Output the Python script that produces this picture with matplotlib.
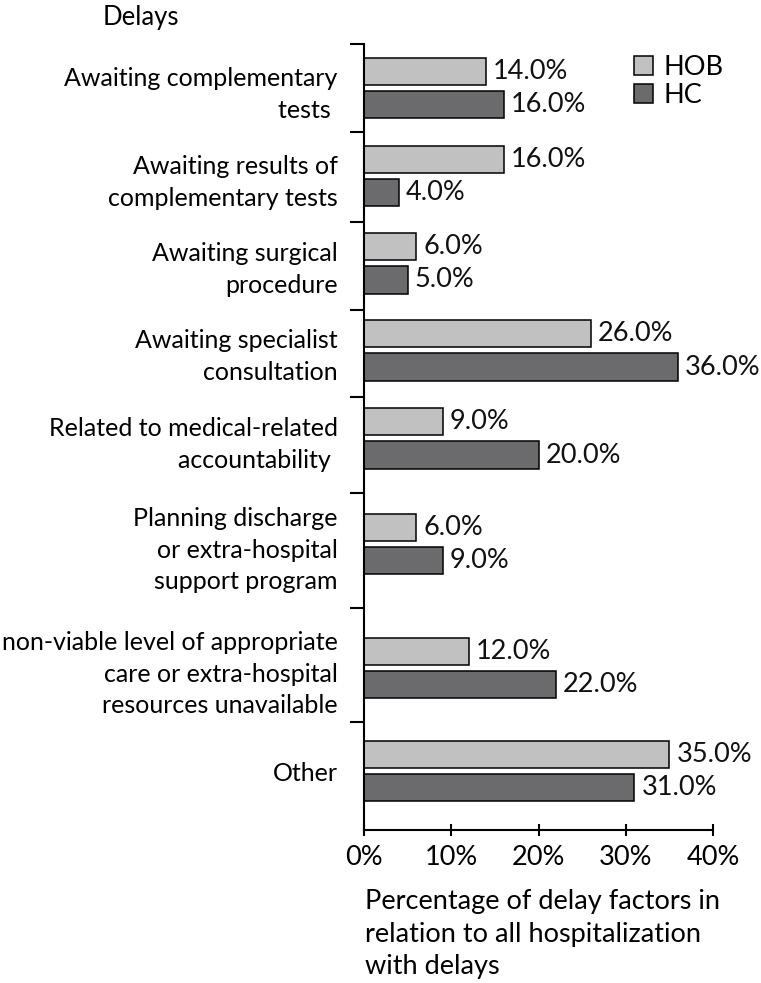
import matplotlib.pyplot as plt
import numpy as np

plt.rcParams['font.family'] = ['Lato', 'DejaVu Sans']

# data
categories = [
    'Awaiting complementary\ntests ',
    'Awaiting results of\ncomplementary tests',
    'Awaiting surgical\nprocedure',
    'Awaiting specialist\nconsultation',
    'Related to medical-related\naccountability ',
    'Planning discharge\nor extra-hospital\nsupport program',
    'non-viable level of appropriate\ncare or extra-hospital\nresources unavailable',
    'Other',
]
hob = [14.0, 16.0, 6.0, 26.0, 9.0, 6.0, 12.0, 35.0]
hc = [16.0, 4.0, 5.0, 36.0, 20.0, 9.0, 22.0, 31.0]
xticks = [0, 10, 20, 30, 40]

# layout: row centres and separator ticks (axis units, top = 0)
row_pos = [0.5, 1.5, 2.49, 3.48, 4.48, 5.68, 7.09, 8.26]
sep_pos = [0, 1.0, 2.02, 3.02, 4.01, 5.1, 6.41, 7.7]
y_end = 8.93
bar_h = 0.31
gap = 0.07

col_hob = '#c1c1c1'
col_hc = '#6b6b6e'
fs = 18

centers = np.array(row_pos)

fig = plt.figure(figsize=(7.61, 9.83), dpi=100)
ax = fig.add_axes([364 / 761, 1 - 830 / 983, (713 - 364) / 761, (830 - 44) / 983])

y_hob = centers - (bar_h + gap) / 2
y_hc = centers + (bar_h + gap) / 2
ax.barh(y_hob, hob, height=bar_h, color=col_hob, edgecolor='black', linewidth=1.1, label='HOB')
ax.barh(y_hc, hc, height=bar_h, color=col_hc, edgecolor='black', linewidth=1.1, label='HC')

for y, v in zip(y_hob, hob):
    ax.text(v + 0.8, y, f'{v:.1f}%', va='center', ha='left', fontsize=19.5, color='#111111')
for y, v in zip(y_hc, hc):
    ax.text(v + 0.8, y, f'{v:.1f}%', va='center', ha='left', fontsize=19.5, color='#111111')

ax.set_xlim(0, 40)
ax.set_ylim(y_end, 0)

ax.set_xticks(xticks)
ax.set_xticklabels([f'{t}%' for t in xticks], fontsize=19.5)
ax.tick_params(axis='x', direction='inout', length=8, width=1.5, pad=7)

ax.set_yticks(sep_pos)
ax.set_yticklabels([])
ax.set_yticks(centers, minor=True)
ax.set_yticklabels(categories, minor=True, fontsize=fs, linespacing=1.45, ha='right')
ax.tick_params(axis='y', which='major', direction='out', length=10, width=1.5)
ax.tick_params(axis='y', which='minor', length=0, pad=19)

for s in ['top', 'right']:
    ax.spines[s].set_visible(False)
for s in ['left', 'bottom']:
    ax.spines[s].set_linewidth(1.5)

ax.legend(loc='upper right', bbox_to_anchor=(1.085, 1.01), frameon=False, fontsize=19.5,
          handlelength=0.7, handleheight=0.7, handletextpad=0.4, labelspacing=0.12,
          borderaxespad=0.3)

fig.text(103 / 761, 1 - 18 / 983, 'Delays', fontsize=18.5, ha='left', va='center')
fig.text(365 / 761, 1 - 889 / 983,
         'Percentage of delay factors in\nrelation to all hospitalization\nwith delays',
         fontsize=19.5, ha='left', va='top', linespacing=1.38)

fig.savefig('out.png', dpi=100)
